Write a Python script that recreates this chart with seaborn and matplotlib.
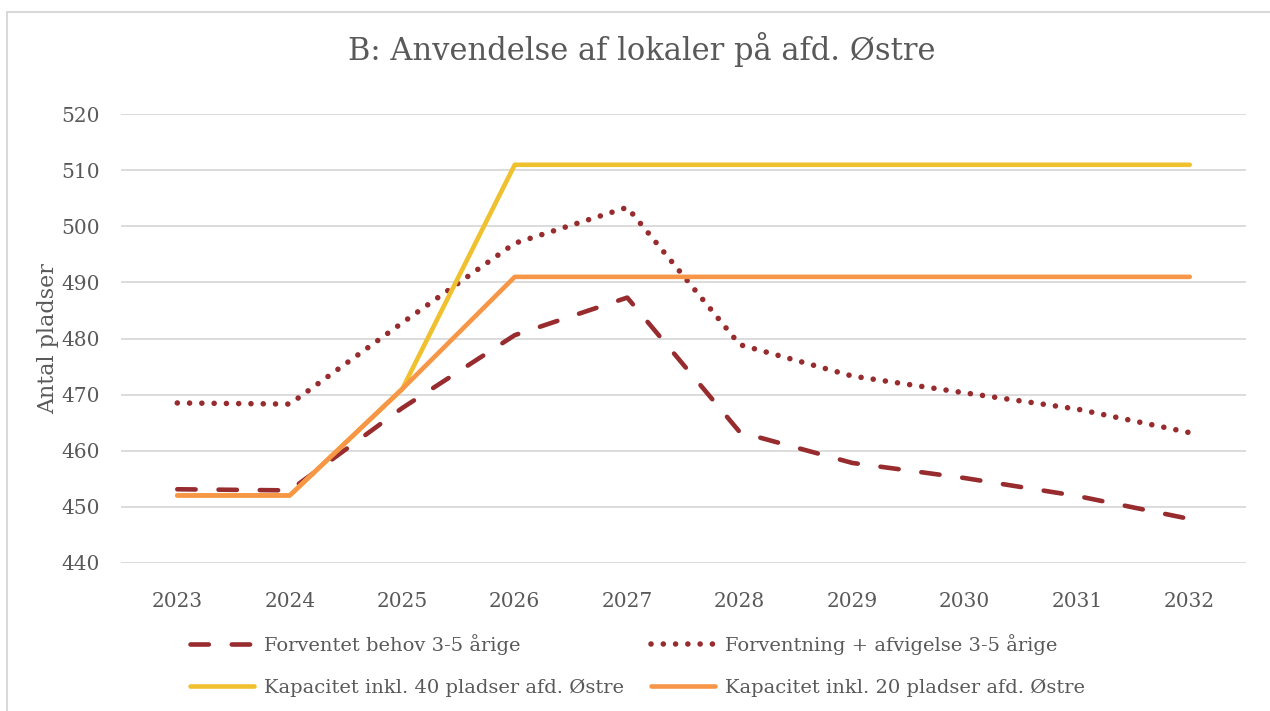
import numpy as np
import pandas as pd
import matplotlib
matplotlib.use("Agg")
import matplotlib.pyplot as plt
import seaborn as sns
from matplotlib.patches import Rectangle

# data
years = [2023, 2024, 2025, 2026, 2027, 2028, 2029, 2030, 2031, 2032]
behov = [453.1, 452.9, 467.6, 480.6, 487.3, 463.3, 457.8, 455.1, 451.9, 447.8]
afvigelse = [468.5, 468.3, 482.8, 497.0, 503.4, 478.9, 473.3, 470.3, 467.4, 463.2]
kap40 = [452, 452, 471, 511, 511, 511, 511, 511, 511, 511]
kap20 = [452, 452, 471, 491, 491, 491, 491, 491, 491, 491]

labels = ["Forventet behov 3-5 årige", "Forventning + afvigelse 3-5 årige",
          "Kapacitet inkl. 40 pladser afd. Østre", "Kapacitet inkl. 20 pladser afd. Østre"]

df = pd.DataFrame({"year": years, labels[0]: behov, labels[1]: afvigelse,
                   labels[2]: kap40, labels[3]: kap20})

sns.set_style("white")
plt.rcParams['font.family'] = ['DejaVu Serif']
text_col = "#595959"

fig = plt.figure(figsize=(12.7, 7.11), dpi=100)
ax = fig.add_axes([0.0953, 0.2086, 0.8858, 0.6306])

red = "#972B2E"
lw = 3.3
sns.lineplot(data=df, x="year", y=labels[2], ax=ax, color="#F0C12E", lw=lw,
             label=labels[2], solid_capstyle="round")
sns.lineplot(data=df, x="year", y=labels[3], ax=ax, color="#F79646", lw=lw,
             label=labels[3], solid_capstyle="round")
sns.lineplot(data=df, x="year", y=labels[0], ax=ax, color=red, lw=lw,
             label=labels[0], linestyle=(0, (4.0, 5.0)),
             dash_capstyle="round")
sns.lineplot(data=df, x="year", y=labels[1], ax=ax, color=red, lw=4.0,
             label=labels[1], linestyle=(0, (0.01, 2.2)), dash_capstyle="round")

# capacity lines on top
for ln in ax.lines[:2]:
    ln.set_zorder(4)
for ln in ax.lines[2:]:
    ln.set_zorder(3)

ax.set_xlim(2022.5, 2032.5)
ax.set_ylim(440, 520)
ax.set_yticks(np.arange(440, 521, 10))
ax.set_xticks(years)
ax.grid(axis="y", color="#D9D9D9", lw=1.3)
ax.set_axisbelow(True)
for s in ax.spines.values():
    s.set_visible(False)
ax.tick_params(axis="both", length=0, labelsize=14.5, labelcolor=text_col)
ax.tick_params(axis="x", pad=21)
ax.tick_params(axis="y", pad=15)
ax.set_xlabel("")
ax.set_ylabel("Antal pladser", fontsize=16, color=text_col, labelpad=2)
fig.suptitle("B: Anvendelse af lokaler på afd. Østre", fontsize=22,
             color=text_col, x=0.505, y=0.955)

ax.get_legend().remove()
h, l = ax.get_legend_handles_labels()
# legend fills column-wise: rows become (behov, afvigelse), (kap40, kap20)
order = [2, 0, 3, 1]
leg = fig.legend([h[i] for i in order], [l[i] for i in order], ncol=2,
                 loc="center", bbox_to_anchor=(0.502, 0.064), frameon=False,
                 fontsize=14, handlelength=3.3, handletextpad=0.5,
                 columnspacing=1.4, labelspacing=1.2)
for t in leg.get_texts():
    t.set_color(text_col)

fig.patches.append(Rectangle((7 / 1270, -0.02), 1.1, 1 - 12 / 711 + 0.02,
                             transform=fig.transFigure, fill=False,
                             edgecolor="#D9D9D9", lw=1.5))

fig.savefig("out.png", dpi=100)
